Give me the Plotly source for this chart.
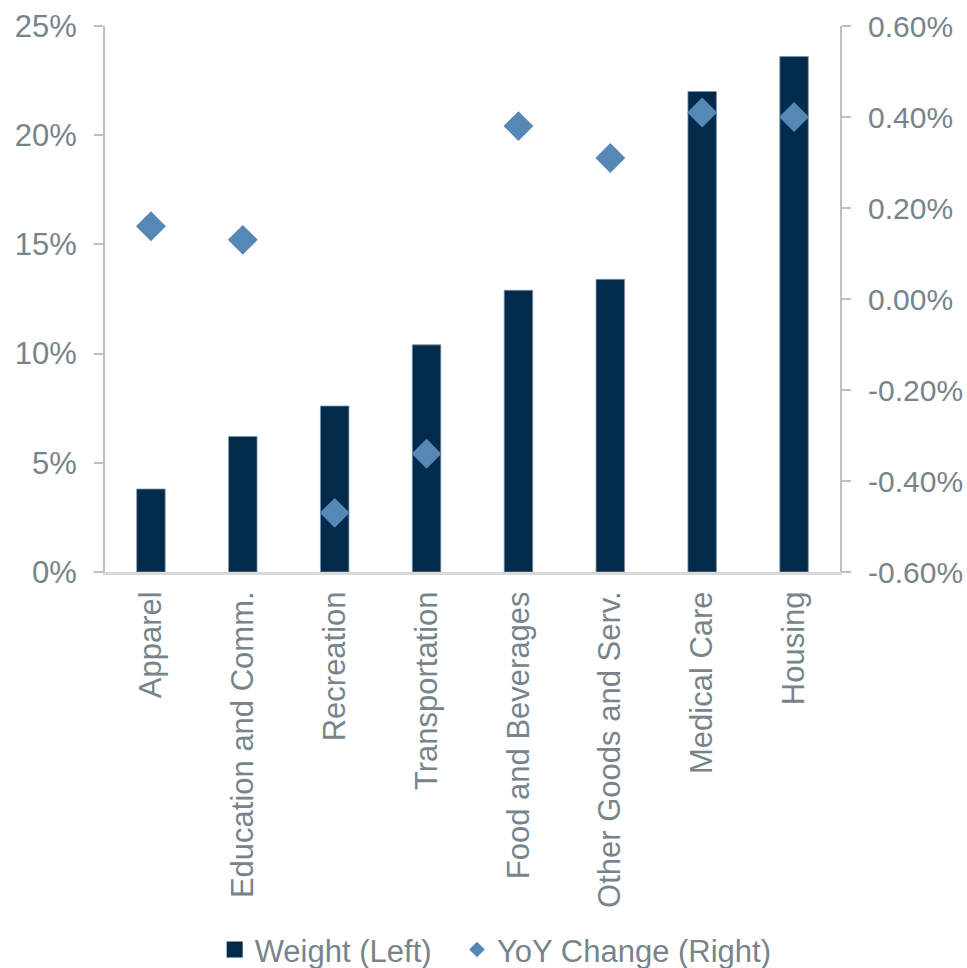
import plotly.graph_objects as go

categories = ["Apparel", "Education and Comm.", "Recreation", "Transportation",
              "Food and Beverages", "Other Goods and Serv.", "Medical Care", "Housing"]
weight_pct = [3.8, 6.2, 7.6, 10.4, 12.9, 13.4, 22.0, 23.6]
yoy_change_pct = [0.16, 0.13, -0.47, -0.34, 0.38, 0.31, 0.41, 0.40]

left_ticks = [0, 5, 10, 15, 20, 25]
left_labels = [f"{v}%" for v in left_ticks]
right_ticks = [-0.6, -0.4, -0.2, 0.0, 0.2, 0.4, 0.6]
right_labels = [f"{v:.2f}%" for v in right_ticks]

NAVY = "#022a4a"
STEEL = "#5588b7"
TEXT = "#78848b"
FONT = "Liberation Sans, Arial, sans-serif"
FS = 31

fig = go.Figure()
fig.add_trace(go.Bar(
    x=categories, y=weight_pct, name="Weight (Left)", showlegend=False,
    marker=dict(color=NAVY, line=dict(color="#7d93a8", width=0.8)),
    width=0.31, yaxis="y",
))
fig.add_trace(go.Scatter(
    x=categories, y=yoy_change_pct, name="YoY Change (Right)", showlegend=False,
    mode="markers", yaxis="y2",
    marker=dict(symbol="diamond", size=23, color=STEEL),
))
# legend keys with their own symbol sizes
fig.add_trace(go.Scatter(
    x=[None], y=[None], name="Weight (Left)", mode="markers", legend="legend",
    marker=dict(symbol="square", size=16, color=NAVY),
))
fig.add_trace(go.Scatter(
    x=[None], y=[None], name="YoY Change (Right)", mode="markers", yaxis="y2",
    legend="legend2",
    marker=dict(symbol="diamond", size=12, color=STEEL),
))

legend_style = dict(
    orientation="h", xref="container", yref="paper",
    xanchor="left", y=-0.692, yanchor="middle",
    font=dict(size=FS, color=TEXT), itemsizing="trace",
    itemwidth=30, tracegroupgap=0,
)

fig.update_layout(
    width=967, height=968,
    margin=dict(l=105, r=127, t=26, b=396, autoexpand=False),
    paper_bgcolor="white", plot_bgcolor="white",
    font=dict(family=FONT, size=FS, color=TEXT),
    showlegend=True,
    legend=dict(x=0.222, **legend_style),
    legend2=dict(x=0.4726, **legend_style),
    xaxis=dict(
        type="category", tickangle=-90, showgrid=False,
        showline=True, linecolor="#d9d9d9", linewidth=3,
        ticks="", ticklabelstandoff=4, automargin=False,
        tickfont=dict(size=FS, color=TEXT),
        range=[-0.5, len(categories) - 0.5],
    ),
    yaxis=dict(
        range=[0, 25], tickvals=left_ticks, ticktext=left_labels,
        showgrid=False, zeroline=False, automargin=False,
        showline=True, linecolor="#bfbfbf", linewidth=2,
        ticks="outside", ticklen=9, tickcolor="#bfbfbf", tickwidth=2,
        ticklabelstandoff=11,
        tickfont=dict(size=FS, color=TEXT),
    ),
    yaxis2=dict(
        range=[-0.6, 0.6], tickvals=right_ticks, ticktext=right_labels,
        overlaying="y", side="right", automargin=False,
        showgrid=False, zeroline=False,
        showline=True, linecolor="#bfbfbf", linewidth=2,
        ticks="outside", ticklen=9, tickcolor="#bfbfbf", tickwidth=2,
        ticklabelstandoff=11,
        tickfont=dict(size=30, color=TEXT),
    ),
)

fig.write_html("out.html")
